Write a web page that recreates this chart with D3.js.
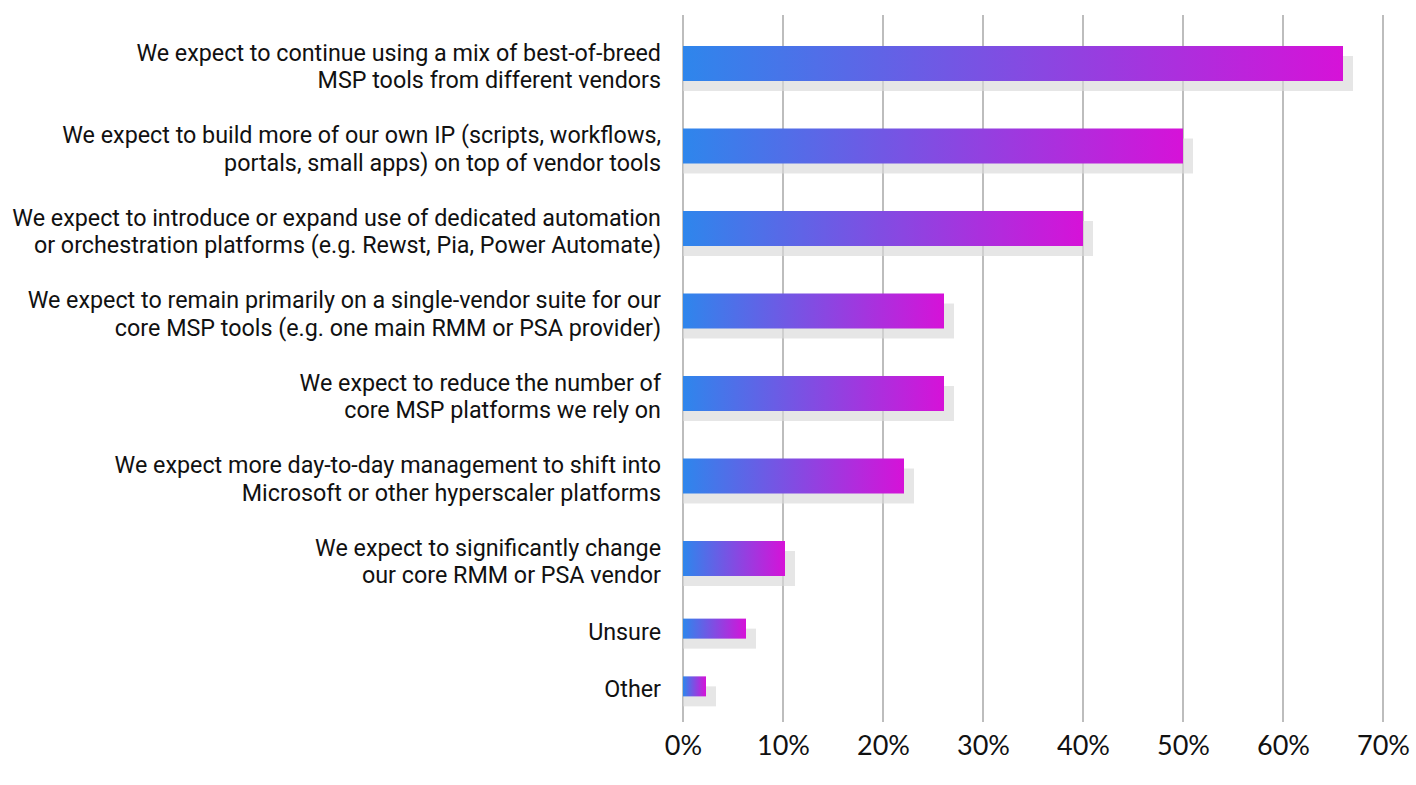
<!DOCTYPE html>
<html>
<head>
<meta charset="utf-8">
<script src="https://cdnjs.cloudflare.com/ajax/libs/d3/7.8.5/d3.min.js"></script>
<style>
  body { margin: 0; background: #ffffff; }
  .cat { font-family: Roboto, sans-serif; font-size: 23.3px; fill: #111111; }
  .tick text { font-family: Lato, Roboto, sans-serif; font-size: 27px; fill: #111111; }
</style>
</head>
<body>
<div class="chart"></div>
<script>
"use strict";

var labels = [
  ["We expect to continue using a mix of best-of-breed", "MSP tools from different vendors"],
  ["We expect to build more of our own IP (scripts, workflows,", "portals, small apps) on top of vendor tools"],
  ["We expect to introduce or expand use of dedicated automation", "or orchestration platforms (e.g. Rewst, Pia, Power Automate)"],
  ["We expect to remain primarily on a single-vendor suite for our", "core MSP tools (e.g. one main RMM or PSA provider)"],
  ["We expect to reduce the number of", "core MSP platforms we rely on"],
  ["We expect more day-to-day management to shift into", "Microsoft or other hyperscaler platforms"],
  ["We expect to significantly change", "our core RMM or PSA vendor"],
  ["Unsure"],
  ["Other"]
];
var values = [66, 50, 40, 26.1, 26.1, 22.1, 10.2, 6.3, 2.3];
var ticks = [0, 10, 20, 30, 40, 50, 60, 70];

var width = 1416,
    height = 785;

var svg = d3.select(".chart")
  .append("svg")
  .attr("width", width)
  .attr("height", height);

var defs = svg.append("defs");
var grad = defs.append("linearGradient")
  .attr("id", "barGrad")
  .attr("x1", "0%").attr("x2", "100%")
  .attr("y1", "0%").attr("y2", "0%");
grad.append("stop").attr("offset", "0%").attr("stop-color", "#2e86ec");
grad.append("stop").attr("offset", "100%").attr("stop-color", "#d612d8");

var x = d3.scaleLinear()
  .domain([0, 70])
  .range([683, 1383]);

// rows with two label lines get more room than single-line rows
var rows = labels.map(function(l, i){ return { lines: l, value: values[i] }; });
var cum = 0;
rows.forEach(function(r){
  r.units = r.lines.length > 1 ? 2 : 1.4;
  r.start = cum;
  cum += r.units;
});
var y = d3.scaleLinear()
  .domain([0, cum])
  .range([22.25, 715.25]);

function center(r){ return y(r.start + r.units / 2); }
function barH(r){ return r.lines.length > 1 ? 35 : 20; }

// vertical grid
svg.append("g")
  .selectAll("line")
  .data(ticks)
  .enter().append("line")
    .attr("x1", function(d){ return x(d); })
    .attr("x2", function(d){ return x(d); })
    .attr("y1", 15)
    .attr("y2", 722)
    .style("stroke", "#9a9a9a")
    .style("stroke-width", "1.3");

// shadows
svg.append("g")
  .selectAll("rect")
  .data(rows)
  .enter().append("rect")
    .attr("x", x(0))
    .attr("y", function(d){ return center(d) - barH(d) / 2 + 10; })
    .attr("width", function(d){ return x(d.value) - x(0) + 10; })
    .attr("height", barH)
    .attr("fill", "#d8d8d8")
    .attr("opacity", 0.65);

// bars
svg.append("g")
  .selectAll("rect")
  .data(rows)
  .enter().append("rect")
    .attr("x", x(0))
    .attr("y", function(d){ return center(d) - barH(d) / 2; })
    .attr("width", function(d){ return x(d.value) - x(0); })
    .attr("height", barH)
    .attr("fill", "url(#barGrad)");

// category labels
var cats = svg.append("g")
  .selectAll("text")
  .data(rows)
  .enter().append("text")
    .attr("class", "cat")
    .attr("text-anchor", "end")
    .attr("x", 661)
    .attr("y", function(d){
      return center(d) + 8 - (d.lines.length - 1) * 13.8 + 3;
    });

cats.selectAll("tspan")
  .data(function(d){ return d.lines; })
  .enter().append("tspan")
    .attr("x", 661)
    .attr("dy", function(d, i){ return i === 0 ? 0 : 27.6; })
    .text(function(d){ return d; });

// x axis
var axis = svg.append("g")
  .attr("transform", "translate(0,728)")
  .call(d3.axisBottom(x)
    .tickValues(ticks)
    .tickSize(0)
    .tickPadding(8)
    .tickFormat(function(d){ return d + "%"; }));
axis.select(".domain").remove();
axis.selectAll(".tick text").attr("dy", "0.71em");
</script>
</body>
</html>
